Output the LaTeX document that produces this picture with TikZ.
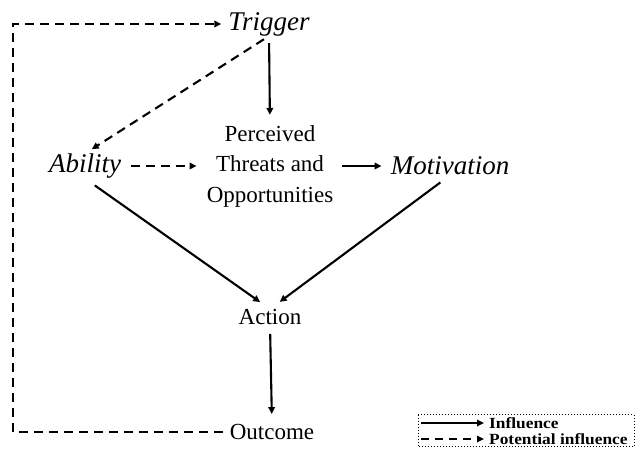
\documentclass[tikz,border=0pt]{standalone}
\usepackage{fontspec}
\setmainfont{Liberation Serif}
\newfontfamily\legfont[FakeStretch=1.12]{Liberation Serif}
\usetikzlibrary{arrows.meta}

\begin{document}
\begin{tikzpicture}[x=1pt,y=-1pt,
  >={Triangle[length=7pt,width=6.5pt]},
  infl/.style={->,line width=2.1pt},
  pinfl/.style={->,line width=2.1pt,dash pattern=on 9pt off 6pt},
  lbl/.style={inner sep=0pt,font=\fontsize{27}{30}\selectfont\itshape},
  txt/.style={inner sep=0pt,align=center,font=\fontsize{23}{30.5}\selectfont},
  legtxt/.style={inner sep=0pt,anchor=west,font=\legfont\fontsize{15.5}{17}\selectfont\bfseries}]
\useasboundingbox (0,0) rectangle (637,448);
% factors
\node[lbl] (trigger) at (269,24) {Trigger};
\node[lbl] (ability) at (85,166) {Ability};
\node[txt] (pto) at (270,166) {Perceived\\Threats and\\Opportunities};
\node[lbl] (motivation) at (450,166) {Motivation};
\node[txt] (action) at (270,317) {Action};
\node[txt] (outcome) at (272,432) {Outcome};
\coordinate (corner) at (13,432);
% influences
\draw[infl,shorten <=7pt,shorten >=10pt] (trigger.south) -- (pto.north);
\draw[pinfl,shorten <=6pt,shorten >=8pt] (trigger.south) -- (ability.north);
\draw[pinfl,shorten <=10pt,shorten >=10pt] (ability.east) -- (ability.east -| pto.west);
\draw[infl,shorten <=9pt,shorten >=9pt] (motivation.west -| pto.east) -- (motivation.west);
\draw[infl,shorten <=12pt,shorten >=12pt] (ability.south) -- (action.north);
\draw[infl,shorten <=12pt,shorten >=12pt] (motivation.south) -- (action.north);
\draw[infl,shorten <=9pt,shorten >=10pt] (action.south) -- (outcome.north);
% feedback
\draw[pinfl,shorten <=7pt,shorten >=7pt] (outcome.west) -- (corner) |- (trigger.west);
% legend
\draw[dotted,line width=1pt] (418,414.5) rectangle (634,446.5);
\node[legtxt] (infl) at (489,423) {Influence};
\node[legtxt] (pinfl) at (489,439) {Potential influence};
\coordinate (inflstart) at (421,423);
\coordinate (pinflstart) at (421,439);
\draw[infl,line width=1.6pt,shorten >=5pt] (inflstart) -- (infl.west);
\draw[pinfl,line width=1.6pt,dash pattern=on 8pt off 6pt,shorten >=5pt] (pinflstart) -- (pinfl.west);
\end{tikzpicture}
\end{document}
